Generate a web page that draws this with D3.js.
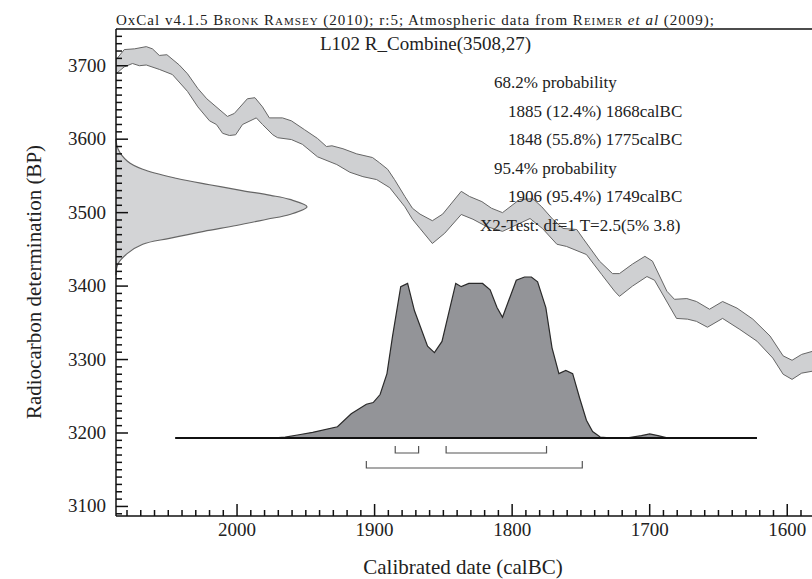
<!DOCTYPE html>
<html lang="en">
<head>
<meta charset="UTF-8">
<title>OxCal R_Combine L102</title>
<script src="https://d3js.org/d3.v7.min.js"></script>
<style>
    body {
        margin: 0;
        background: #ffffff;
    }
    svg text {
        font-family: "Liberation Serif", "Times New Roman", serif;
        fill: #222;
    }
    .tick-label { font-size: 19px; }
    .axis-title { font-size: 21px; }
    .info { font-size: 17px; }
</style>
</head>
<body>
<div id="chart"></div>
<script>
    // calibration curve, upper and lower edge: [calBC, BP]
    const calUpper = [
        [2088, 3708], [2082, 3722], [2074.5, 3723], [2066, 3726], [2061.5, 3723],
        [2056.5, 3714], [2051, 3715], [2042, 3701], [2036, 3689], [2028.5, 3669],
        [2022, 3655], [2007, 3631], [2002, 3635], [1992.5, 3655], [1987, 3656.5],
        [1981.5, 3644], [1976.5, 3629], [1967, 3629], [1960.5, 3625], [1951, 3613],
        [1941.5, 3601], [1935, 3590], [1931, 3591], [1923, 3587], [1913, 3580],
        [1901.5, 3575], [1896.5, 3568], [1890.5, 3559], [1885.5, 3545], [1878, 3522],
        [1872.5, 3506], [1867, 3498], [1858, 3489], [1850.5, 3498], [1837, 3529],
        [1831, 3522], [1822, 3515], [1815, 3506], [1807, 3500], [1794.5, 3518],
        [1785, 3519], [1778.5, 3508], [1770.5, 3491], [1763, 3478.5], [1753, 3477],
        [1748.5, 3465], [1736.5, 3434], [1727, 3417], [1722, 3417], [1712.5, 3430],
        [1703.5, 3440.5], [1698, 3434], [1687.5, 3393], [1682, 3382], [1673, 3383],
        [1666, 3379], [1656.5, 3368.5], [1647, 3379], [1636.5, 3370], [1625, 3355],
        [1612.5, 3332], [1603, 3305], [1596.5, 3299], [1589.5, 3307], [1582, 3311],
        [1575, 3313]
    ];
    const calLower = [
        [2088, 3689], [2082, 3698.5], [2076, 3703], [2071, 3700], [2066, 3701],
        [2056.5, 3695], [2047, 3688], [2036, 3665], [2028.5, 3644], [2020, 3625],
        [2015, 3620], [2010.5, 3608], [2005.5, 3605], [2001, 3606], [1996, 3620],
        [1986, 3629], [1981.5, 3620], [1974, 3606], [1970.5, 3602], [1960.5, 3599.5],
        [1952.5, 3593], [1941.5, 3576], [1927.5, 3565.5], [1918, 3555], [1908.5, 3549],
        [1898.5, 3545], [1889, 3534], [1878, 3508], [1872.5, 3491], [1867, 3478.5],
        [1858, 3458], [1849, 3472], [1837, 3497.5], [1828.5, 3491], [1818.5, 3481],
        [1807, 3474.5], [1787, 3492], [1778, 3478.5], [1767.5, 3457], [1760.5, 3454],
        [1746, 3443], [1735, 3416], [1725.5, 3393], [1722, 3386], [1712.5, 3400],
        [1702, 3413], [1696.5, 3408], [1680.5, 3356], [1672.5, 3355], [1666, 3352],
        [1658, 3344], [1647, 3356], [1634.5, 3341], [1622, 3325], [1610.5, 3302],
        [1603, 3280], [1596.5, 3273], [1589.5, 3281.5], [1582, 3284], [1575, 3286]
    ];

    // measured date R_Combine(3508,27): relative density on the BP axis
    const gaussBP = [3600, 3587, 3570, 3559, 3546.5, 3538, 3530, 3523.5, 3518, 3508,
                     3497.5, 3491, 3482.5, 3474.5, 3465, 3457, 3444.5, 3430, 3415];
    const gaussDensity = [0, 0.01, 0.06, 0.14, 0.32, 0.49, 0.66, 0.81, 0.91, 1.0,
                          0.91, 0.79, 0.63, 0.46, 0.28, 0.14, 0.06, 0.01, 0];

    // calibrated probability distribution
    const probYears = [1975, 1965, 1955, 1945, 1927, 1917, 1906, 1901, 1896, 1891,
                       1887, 1881, 1876, 1871, 1861.5, 1856.5, 1851, 1841, 1837, 1831.5,
                       1821.5, 1816, 1811, 1807, 1797, 1791, 1786, 1781.5, 1775.5, 1771,
                       1766, 1761, 1756, 1751, 1746, 1741.5, 1736, 1727, 1715, 1706,
                       1700, 1694, 1688, 1680];
    const probValues = [0, 0.005, 0.02, 0.035, 0.07, 0.15, 0.21, 0.22, 0.27, 0.40,
                        0.63, 0.94, 0.96, 0.79, 0.57, 0.53, 0.60, 0.96, 0.94, 0.96,
                        0.96, 0.92, 0.81, 0.75, 0.98, 1.0, 1.0, 0.97, 0.81, 0.56,
                        0.40, 0.42, 0.40, 0.25, 0.11, 0.04, 0.006, 0, 0.003, 0.015,
                        0.025, 0.015, 0.002, 0];
    const baseSpan = [2045, 1622];

    // highest posterior density ranges
    const range68 = [[1885, 1868], [1848, 1775]];
    const range95 = [[1906, 1749]];

    const xTicks = [2000, 1900, 1800, 1700, 1600];
    const yTicks = [3100, 3200, 3300, 3400, 3500, 3600, 3700];

    const infoLines = [
        { text: "68.2% probability", indent: 0 },
        { text: "1885 (12.4%) 1868calBC", indent: 1 },
        { text: "1848 (55.8%) 1775calBC", indent: 1 },
        { text: "95.4% probability", indent: 0 },
        { text: "1906 (95.4%) 1749calBC", indent: 1 }
    ];

    const width = 812;
    const height = 579;
    const m = { left: 116, right: 812, top: 29, bottom: 516 };

    const svg = d3.select("#chart")
        .append("svg")
        .attr("width", width)
        .attr("height", height);

    const x = d3.scaleLinear().domain([2088, 1582]).range([m.left, m.right]);
    const y = d3.scaleLinear().domain([3087, 3750]).range([m.bottom, m.top]);

    // distribution baseline and height in pixels
    const baseY = 438;
    const probY = d3.scaleLinear().domain([0, 1]).range([baseY, 277]);
    const gaussX = d3.scaleLinear().domain([0, 1]).range([m.left, 307]);

    const plot = svg.append("g");
    svg.append("clipPath").attr("id", "clip")
        .append("rect").attr("x", m.left).attr("y", m.top)
        .attr("width", m.right - m.left).attr("height", m.bottom - m.top);

    // calibration band
    const band = calUpper.concat(calLower.slice().reverse());
    plot.append("path")
        .attr("clip-path", "url(#clip)")
        .attr("d", d3.line().x(d => x(d[0])).y(d => y(d[1]))(band) + "Z")
        .attr("fill", "#cfd0d2")
        .attr("stroke", "#666")
        .attr("stroke-width", 1);

    // measurement on the y axis
    plot.append("path")
        .attr("d", d3.line()
            .x(d => gaussX(d[1]))
            .y(d => y(d[0]))
            .curve(d3.curveCatmullRom)(d3.zip(gaussBP, gaussDensity)))
        .attr("fill", "#d3d4d6")
        .attr("stroke", "#666")
        .attr("stroke-width", 1.2);

    // calibrated distribution
    const probData = d3.zip(probYears, probValues);
    plot.append("path")
        .attr("d", d3.area().x(d => x(d[0])).y0(baseY).y1(d => probY(d[1]))(probData))
        .attr("fill", "#939498");
    plot.append("path")
        .attr("d", d3.line().x(d => x(d[0])).y(d => probY(d[1]))(probData))
        .attr("fill", "none")
        .attr("stroke", "#2a2a2a")
        .attr("stroke-width", 1.2);

    plot.append("line")
        .attr("x1", x(baseSpan[0])).attr("x2", x(baseSpan[1]))
        .attr("y1", baseY).attr("y2", baseY)
        .attr("stroke", "#111")
        .attr("stroke-width", 2);

    // range brackets
    function bracket(r, yy) {
        plot.append("path")
            .attr("d", `M${x(r[0])},${yy - 7}V${yy}H${x(r[1])}V${yy - 7}`)
            .attr("fill", "none")
            .attr("stroke", "#555")
            .attr("stroke-width", 1.2);
    }
    range68.forEach(r => bracket(r, 453));
    range95.forEach(r => bracket(r, 468));

    // axes
    const axes = svg.append("g").attr("stroke", "#111");
    axes.append("line").attr("x1", m.left).attr("x2", m.right).attr("y1", m.top).attr("y2", m.top).attr("stroke-width", 1.5);
    axes.append("line").attr("x1", m.left).attr("x2", m.left).attr("y1", m.top).attr("y2", m.bottom).attr("stroke-width", 1.5);
    axes.append("line").attr("x1", m.left).attr("x2", m.right).attr("y1", m.bottom).attr("y2", m.bottom).attr("stroke-width", 1.5);

    d3.range(1590, 2090, 10).forEach(v => {
        const major = v % 100 === 0;
        axes.append("line")
            .attr("x1", x(v)).attr("x2", x(v))
            .attr("y1", m.bottom).attr("y2", m.bottom - (major ? 12 : 6))
            .attr("stroke-width", 1.5);
    });
    d3.range(3090, 3750, 10).forEach(v => {
        const major = v % 100 === 0;
        axes.append("line")
            .attr("x1", m.left).attr("x2", m.left + (major ? 12 : 6))
            .attr("y1", y(v)).attr("y2", y(v))
            .attr("stroke-width", 1.5);
    });

    svg.selectAll(".xlab")
        .data(xTicks)
        .enter()
        .append("text")
        .attr("class", "tick-label")
        .attr("x", d => x(d))
        .attr("y", 536)
        .attr("text-anchor", "middle")
        .text(d => d);

    svg.selectAll(".ylab")
        .data(yTicks)
        .enter()
        .append("text")
        .attr("class", "tick-label")
        .attr("x", 106)
        .attr("y", d => y(d) + 6)
        .attr("text-anchor", "end")
        .text(d => d);

    svg.append("text")
        .attr("class", "axis-title")
        .attr("x", 463).attr("y", 574)
        .attr("text-anchor", "middle")
        .text("Calibrated date (calBC)");

    svg.append("text")
        .attr("class", "axis-title")
        .attr("transform", "translate(41,282) rotate(-90)")
        .attr("text-anchor", "middle")
        .text("Radiocarbon determination (BP)");

    // header line
    const head = svg.append("text")
        .attr("x", m.left).attr("y", 25)
        .attr("font-size", "15px")
        .attr("textLength", 598)
        .attr("lengthAdjust", "spacing");
    head.append("tspan").text("OxCal v4.1.5 ");
    head.append("tspan").style("font-variant", "small-caps").text("Bronk Ramsey");
    head.append("tspan").text(" (2010); r:5; Atmospheric data from ");
    head.append("tspan").style("font-variant", "small-caps").text("Reimer");
    head.append("tspan").text(" ");
    head.append("tspan").style("font-style", "italic").text("et al");
    head.append("tspan").text(" (2009);");

    // result text
    svg.append("text")
        .attr("x", 320).attr("y", 50)
        .attr("font-size", "19px")
        .text("L102 R_Combine(3508,27)");

    svg.selectAll(".info-line")
        .data(infoLines)
        .enter()
        .append("text")
        .attr("class", "info")
        .attr("x", d => 494 + d.indent * 14)
        .attr("y", (d, i) => 88 + i * 28.5)
        .text(d => d.text);

    svg.append("text")
        .attr("class", "info")
        .attr("x", 480).attr("y", 231)
        .text("X2-Test: df=1 T=2.5(5% 3.8)");
</script>
</body>
</html>
